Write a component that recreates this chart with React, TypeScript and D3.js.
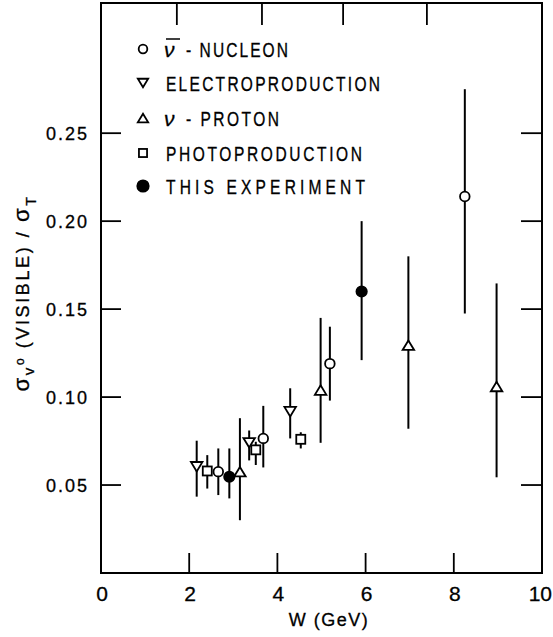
import React from "react";
import * as d3 from "d3";

// [W, value, low, high]
const nucleon: number[][] = [
  [2.66, 0.0576, 0.0443, 0.0708],
  [3.68, 0.0765, 0.06, 0.095],
  [5.19, 0.119, 0.098, 0.14],
  [8.25, 0.214, 0.1475, 0.275],
];
const electro: number[][] = [
  [2.17, 0.0604, 0.0434, 0.0752],
  [3.36, 0.074, 0.064, 0.081],
  [4.29, 0.0917, 0.0765, 0.105],
];
const proton: number[][] = [
  [3.15, 0.0576, 0.03, 0.088],
  [4.98, 0.104, 0.074, 0.145],
  [6.97, 0.1295, 0.082, 0.18],
  [8.97, 0.106, 0.0544, 0.1646],
];
const photo: number[][] = [
  [2.41, 0.058, 0.048, 0.067],
  [3.51, 0.07, 0.0614, 0.0746],
  [4.53, 0.076, 0.0708, 0.08],
];
const thisExp: number[][] = [
  [2.91, 0.0547, 0.0424, 0.0708],
  [5.91, 0.16, 0.121, 0.2],
];

const xTicks = [0, 2, 4, 6, 8, 10];
const xTickLabels = ["0", "2", "4", "6", "8", "10"];
const yTicks = [0.05, 0.1, 0.15, 0.2, 0.25];
const yTickLabels = ["0.05", "0.10", "0.15", "0.20", "0.25"];
const topTicks = [1.72, 3.65, 5.49, 7.39];

const legendLabels = ["- NUCLEON", "ELECTROPRODUCTION", "- PROTON", "PHOTOPRODUCTION", "THIS EXPERIMENT"];
const legendKinds = ["circle", "down", "up", "square", "filled"];
// layout of label texts: start x and rendered width
const legendStarts = [186, 166, 186, 166, 166];
const legendWidths = [102, 214, 93, 196, 199];

const FONT = "'Liberation Sans', Arial, sans-serif";
const SQUEEZE = 0.74;

function Marker({ kind, cx, cy, s }: { kind: string; cx: number; cy: number; s: number }) {
  const sw = 1.8;
  if (kind === "circle")
    return <circle cx={cx} cy={cy} r={s * 0.48} fill="white" stroke="black" strokeWidth={sw} />;
  if (kind === "filled") return <circle cx={cx} cy={cy} r={s * 0.52} fill="black" stroke="black" strokeWidth={sw} />;
  if (kind === "square")
    return (
      <rect x={cx - s * 0.45} y={cy - s * 0.45} width={s * 0.9} height={s * 0.9} fill="white" stroke="black" strokeWidth={sw} />
    );
  const h = s * 0.95;
  const w = s * 1.15;
  if (kind === "down")
    return (
      <path
        d={`M${cx - w / 2},${cy - h / 2}L${cx + w / 2},${cy - h / 2}L${cx},${cy + h / 2}Z`}
        fill="white"
        stroke="black"
        strokeWidth={sw}
      />
    );
  return (
    <path
      d={`M${cx - w / 2},${cy + h / 2}L${cx + w / 2},${cy + h / 2}L${cx},${cy - h / 2}Z`}
      fill="white"
      stroke="black"
      strokeWidth={sw}
    />
  );
}

export default function App() {
  const x = d3.scaleLinear().domain([0, 10]).range([101, 542]);
  const y = d3.scaleLinear().domain([0, 0.324]).range([573, 3]);
  const series: [string, number[][]][] = [
    ["circle", nucleon],
    ["down", electro],
    ["up", proton],
    ["square", photo],
    ["filled", thisExp],
  ];
  const legendX = 143;
  const legendY = [49, 83, 118, 153, 186];

  return (
    <svg width={553} height={637} style={{ position: "absolute", left: 0, top: 0, background: "white" }}>
      <rect x={0} y={0} width={553} height={637} fill="white" />
      {/* frame */}
      <rect x={x(0)} y={y(0.324)} width={x(10) - x(0)} height={y(0) - y(0.324)} fill="none" stroke="black" strokeWidth={2} />
      {/* bottom ticks */}
      {xTicks.slice(1, -1).map((t) => (
        <line key={"bt" + t} x1={x(t)} x2={x(t)} y1={y(0)} y2={y(0) - 20} stroke="black" strokeWidth={1.8} />
      ))}
      {topTicks.map((t) => (
        <line key={"tt" + t} x1={x(t)} x2={x(t)} y1={y(0.324)} y2={y(0.324) + 22} stroke="black" strokeWidth={1.8} />
      ))}
      {yTicks.map((t) => (
        <g key={"yt" + t}>
          <line x1={x(0)} x2={x(0) + 20} y1={y(t)} y2={y(t)} stroke="black" strokeWidth={1.8} />
          <line x1={x(10)} x2={x(10) - 21} y1={y(t)} y2={y(t)} stroke="black" strokeWidth={1.8} />
        </g>
      ))}
      {/* tick labels */}
      {xTicks.map((t, i) => (
        <text
          key={"xl" + t}
          x={t === 10 ? 552 : x(t) + 1}
          y={601}
          fontSize={21}
          fontFamily={FONT}
          textAnchor={t === 10 ? "end" : "middle"}
          stroke="black"
          strokeWidth={0.3}
        >
          {xTickLabels[i]}
        </text>
      ))}
      {yTicks.map((t, i) => (
        <text
          key={"yl" + t}
          x={89}
          y={y(t) + 6.5}
          fontSize={18}
          fontFamily={FONT}
          textAnchor="end"
          letterSpacing={2}
          stroke="black"
          strokeWidth={0.3}
        >
          {yTickLabels[i]}
        </text>
      ))}
      <text x={329} y={626} fontSize={18} fontFamily={FONT} textAnchor="middle" letterSpacing={1.5} stroke="black" strokeWidth={0.3}>
        W (GeV)
      </text>
      {/* y label */}
      <text
        transform="translate(29,293) rotate(-90)"
        fontSize={18}
        fontFamily={FONT}
        textAnchor="middle"
        letterSpacing={2.6}
        stroke="black"
        strokeWidth={0.3}
      >
        <tspan fontSize={22}>σ</tspan>
        <tspan fontSize={15} dy={5}>
          v
        </tspan>
        <tspan fontSize={12} dy={-10}>
          o
        </tspan>
        <tspan dy={5} fontSize={18}>
          {" (VISIBLE) / "}
        </tspan>
        <tspan fontSize={22}>σ</tspan>
        <tspan fontSize={14} dy={7}>
          T
        </tspan>
      </text>
      {/* error bars */}
      {series.map(([kind, data]) =>
        data.map((d, i) => (
          <line
            key={kind + "e" + i}
            x1={x(d[0])}
            x2={x(d[0])}
            y1={y(d[2])}
            y2={y(d[3])}
            stroke="black"
            strokeWidth={2}
          />
        ))
      )}
      {/* markers */}
      {series.map(([kind, data]) =>
        data.map((d, i) => <Marker key={kind + "m" + i} kind={kind} cx={x(d[0])} cy={y(d[1])} s={10} />)
      )}
      {/* legend */}
      {legendKinds.map((k, i) => (
        <g key={"lg" + i}>
          <Marker kind={k} cx={legendX} cy={legendY[i]} s={k === "filled" ? 11 : 9} />
          {(i === 0 || i === 2) && (
            <text x={164} y={legendY[i] + 8} fontSize={21} fontFamily={FONT} fontStyle="italic" stroke="black" strokeWidth={0.3}>
              ν
            </text>
          )}
          {i === 0 && <line x1={166} x2={180} y1={legendY[i] - 10} y2={legendY[i] - 10} stroke="black" strokeWidth={1.5} />}
          <g transform={`translate(${legendStarts[i]},${legendY[i] + 7.5}) scale(${SQUEEZE},1)`}>
            <text
              x={0}
              y={0}
              fontSize={21}
              fontFamily={FONT}
              textLength={legendWidths[i] / SQUEEZE}
              lengthAdjust="spacing"
              stroke="black"
              strokeWidth={0.35}
            >
              {legendLabels[i]}
            </text>
          </g>
        </g>
      ))}
    </svg>
  );
}
